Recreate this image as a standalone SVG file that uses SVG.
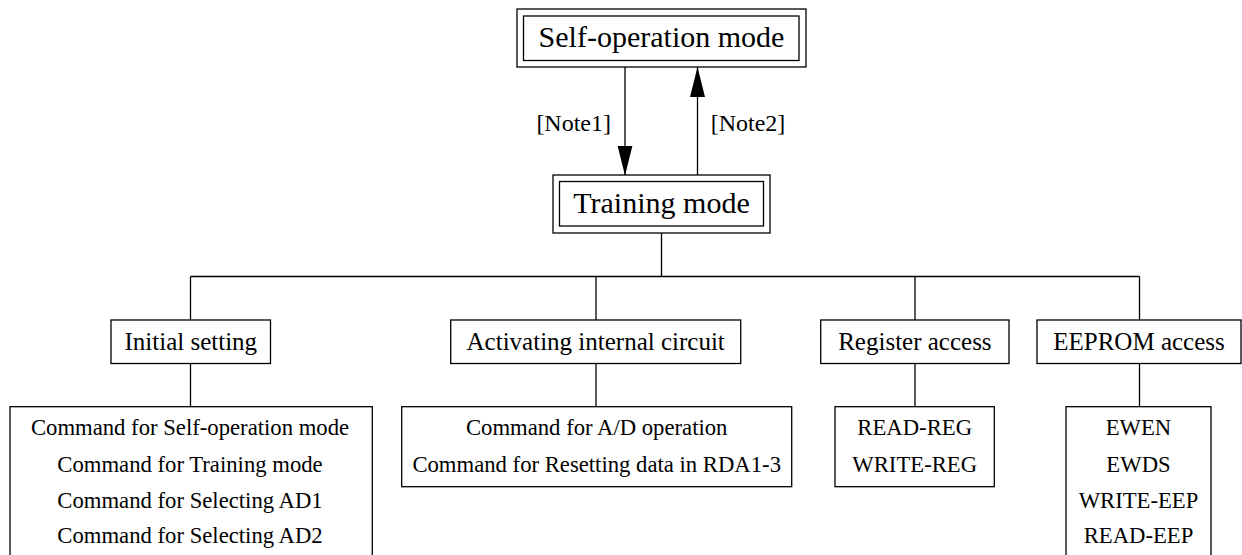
<svg xmlns="http://www.w3.org/2000/svg" width="1242" height="555" viewBox="0 0 1242 555">
<style>
  rect { fill: #ffffff; stroke: #000000; stroke-width: 1.3; }
  line { stroke: #000000; stroke-width: 1.3; fill: none; }
  text { font-family: "Liberation Serif", "Times New Roman", serif; fill: #000000; text-anchor: middle; }
  .main { font-size: 30px; }
  .note { font-size: 24px; }
  .lvl { font-size: 25px; }
  .leaf { font-size: 22.7px; }
</style>
<defs>
  <marker id="arrow" markerUnits="userSpaceOnUse" markerWidth="30" markerHeight="16" refX="30" refY="8" orient="auto">
    <path d="M0,0.5 L30,8 L0,15.5 Z" fill="#000000"/>
  </marker>
</defs>
<rect x="0" y="0" width="1242" height="555" style="stroke:none;fill:#ffffff"/>

<g id="connectors">
  <line x1="625" y1="67" x2="625" y2="175.5" marker-end="url(#arrow)"/>
  <line x1="697.5" y1="175" x2="697.5" y2="67" marker-end="url(#arrow)"/>
  <text class="note" x="573.7" y="131">[Note1]</text>
  <text class="note" x="748" y="131">[Note2]</text>
  <line x1="661.5" y1="233" x2="661.5" y2="276.5"/>
  <line x1="190.5" y1="276.5" x2="1139.5" y2="276.5"/>
  <line x1="190.5" y1="276.5" x2="190.5" y2="320"/>
  <line x1="596" y1="276.5" x2="596" y2="320"/>
  <line x1="915" y1="276.5" x2="915" y2="320"/>
  <line x1="1139.5" y1="276.5" x2="1139.5" y2="320"/>
  <line x1="190.5" y1="363.5" x2="190.5" y2="406.7"/>
  <line x1="596" y1="363.5" x2="596" y2="406.7"/>
  <line x1="915" y1="363.5" x2="915" y2="406.7"/>
  <line x1="1139.5" y1="363.5" x2="1139.5" y2="406.7"/>
</g>

<g id="self-operation-mode">
  <rect x="517" y="9" width="289" height="58"/>
  <rect x="523.5" y="16" width="275.5" height="44.5"/>
  <text class="main" x="661.5" y="47">Self-operation mode</text>
</g>

<g id="training-mode">
  <rect x="553" y="175" width="217" height="58"/>
  <rect x="559.5" y="181.5" width="204" height="44.5"/>
  <text class="main" x="661.5" y="213">Training mode</text>
</g>

<g id="initial-setting">
  <rect x="111" y="320" width="159.5" height="43.5"/>
  <text class="lvl" x="190.8" y="350">Initial setting</text>
</g>

<g id="activating-internal-circuit">
  <rect x="450.7" y="320" width="290" height="43.5"/>
  <text class="lvl" x="595.7" y="350">Activating internal circuit</text>
</g>

<g id="register-access">
  <rect x="820.7" y="320" width="188.3" height="43.5"/>
  <text class="lvl" x="914.9" y="350">Register access</text>
</g>

<g id="eeprom-access">
  <rect x="1037" y="320" width="204" height="43.5"/>
  <text class="lvl" x="1139" y="350">EEPROM access</text>
</g>

<g id="initial-commands">
  <rect x="10" y="406.7" width="362.3" height="160"/>
  <text class="leaf" x="190" y="435">Command for Self-operation mode</text>
  <text class="leaf" x="190" y="471.7">Command for Training mode</text>
  <text class="leaf" x="190" y="507.7">Command for Selecting AD1</text>
  <text class="leaf" x="190" y="543.3">Command for Selecting AD2</text>
</g>

<g id="activating-commands">
  <rect x="401.7" y="406.7" width="390" height="80"/>
  <text class="leaf" x="596.7" y="435">Command for A/D operation</text>
  <text class="leaf" x="596.7" y="471.7">Command for Resetting data in RDA1-3</text>
</g>

<g id="register-commands">
  <rect x="835" y="406.7" width="159.3" height="80"/>
  <text class="leaf" x="914.7" y="435">READ-REG</text>
  <text class="leaf" x="914.7" y="471.7">WRITE-REG</text>
</g>

<g id="eeprom-commands">
  <rect x="1066" y="406.7" width="145" height="160"/>
  <text class="leaf" x="1138.5" y="435">EWEN</text>
  <text class="leaf" x="1138.5" y="471.7">EWDS</text>
  <text class="leaf" x="1138.5" y="507.7">WRITE-EEP</text>
  <text class="leaf" x="1138.5" y="543.3">READ-EEP</text>
</g>
</svg>
